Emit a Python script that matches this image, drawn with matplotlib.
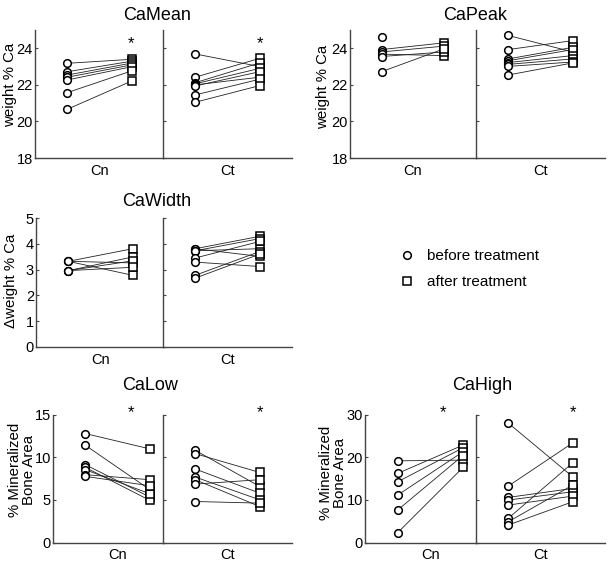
import numpy as np
import matplotlib
matplotlib.use("Agg")
import matplotlib.pyplot as plt
from matplotlib.lines import Line2D

plt.rcParams['font.family'] = ['Liberation Sans', 'DejaVu Sans']

# ---------------- data ----------------
groups = ["Cn", "Ct"]

camean_cn_before = [23.18, 22.72, 22.54, 22.42, 22.27, 21.58, 20.67]
camean_cn_after = [23.40, 23.30, 23.20, 23.10, 23.00, 22.78, 22.23]
camean_ct_before = [23.69, 22.42, 22.12, 22.06, 22.00, 21.94, 21.45, 21.05]
camean_ct_after = [23.00, 23.45, 23.20, 22.90, 22.42, 22.72, 22.31, 21.96]

capeak_cn_before = [24.62, 23.93, 23.80, 23.68, 23.55, 22.72]
capeak_cn_after = [np.nan, 24.30, 24.12, 23.60, 23.80, 23.98]
capeak_ct_before = [24.70, 23.93, 23.42, 23.32, 23.22, 23.12, 23.01, 22.54]
capeak_ct_after = [23.80, 24.42, 24.05, 23.93, 23.60, 23.42, 23.25, 23.20]

cawidth_cn_before = [3.32, 3.32, 3.32, 2.96, 2.96, 2.96]
cawidth_cn_after = [3.81, 2.78, 3.26, 3.49, 3.34, 3.09]
cawidth_ct_before = [3.81, 3.81, 3.73, 3.73, 3.45, 3.29, 2.78, 2.67]
cawidth_ct_after = [4.29, 3.51, 4.20, 3.81, 4.09, 3.12, 3.70, 3.60]

calow_cn_before = [12.77, 11.40, 9.13, 8.81, 8.54, 7.96, 7.76]
calow_cn_after = [10.97, 6.19, 5.33, 4.94, 5.72, 7.37, 6.66]
calow_ct_before = [10.81, 10.42, 8.62, 7.68, 7.37, 6.86, 4.82]
calow_ct_after = [6.58, 8.22, 5.80, 5.02, 4.23, 7.37, 4.63]

cahigh_cn_before = [19.16, 16.21, 14.25, 11.14, 7.64, 2.34]
cahigh_cn_after = [19.32, 22.83, 22.20, 21.26, 20.40, 17.60]
cahigh_ct_before = [28.00, 13.25, 10.60, 9.98, 8.81, 5.70, 4.90, 4.14]
cahigh_ct_after = [15.42, 23.36, 12.70, 11.92, 10.90, 18.70, 13.48, 9.58]

legend_labels = ["before treatment", "after treatment"]

# ---------------- layout ----------------
W, H = 612, 565
fig = plt.figure(figsize=(W / 100, H / 100), dpi=100)

SPINE = "#444444"
LINEC = "#222222"
FS = 10.5
MS_O, MS_S, MEW = 5.5, 5.1, 1.1


def add_ax(x0, x1, ytop, ybot):
    return fig.add_axes([x0 / W, (H - ybot) / H, (x1 - x0) / W, (ybot - ytop) / H])


def style(ax, ylim, yticks, labels):
    ax.set_ylim(*ylim)
    ax.set_yticks(yticks)
    for s in ("top", "right"):
        ax.spines[s].set_visible(False)
    for s in ("left", "bottom"):
        ax.spines[s].set_color(SPINE)
        ax.spines[s].set_linewidth(1.0)
    ax.tick_params(axis="y", direction="in", length=2.5, width=0.8, color=SPINE,
                   pad=1.5, labelsize=FS, labelleft=labels)
    ax.tick_params(axis="x", length=0, pad=4, labelsize=FS)
    ax.set_facecolor("none")


def draw_half(ax, before, after, xlim, label):
    ax.set_xlim(*xlim)
    b = np.asarray(before, dtype=float)
    a = np.asarray(after, dtype=float)
    for yb, ya in zip(b, a):
        ax.plot([1, 2], [yb, ya], color=LINEC, lw=0.6, zorder=2)
    ax.plot(np.ones_like(b), b, ls="none", marker="o", ms=MS_O, mfc="white",
            mec="black", mew=MEW, zorder=3, clip_on=False)
    ax.plot(np.full_like(a, 2), a, ls="none", marker="s", ms=MS_S, mfc="white",
            mec="black", mew=MEW, zorder=3, clip_on=False)
    ax.set_xticks([1.5])
    ax.set_xticklabels([label])


def panel(xl, xm, xr, ytop, ybot, title, title_xy, ylabel, ylabel_xy, ylim, yticks,
          cn_b, cn_a, ct_b, ct_a, left_xlim, stars, star_x_left, star_y):
    axl = add_ax(xl, xm, ytop, ybot)
    axr = add_ax(xm, xr, ytop, ybot)
    style(axl, ylim, yticks, True)
    style(axr, ylim, yticks, False)
    draw_half(axl, cn_b, cn_a, left_xlim, groups[0])
    draw_half(axr, ct_b, ct_a, (0.5, 2.5), groups[1])
    axl.set_ylabel(ylabel, fontsize=FS + 0.3, linespacing=1.0, va="center", ha="center")
    axl.yaxis.set_label_coords((ylabel_xy[0] - xl) / (xm - xl),
                               (ybot - ylabel_xy[1]) / (ybot - ytop))
    fig.text(title_xy[0] / W, 1 - title_xy[1] / H, title,
             ha="center", va="center", fontsize=13)
    if stars:
        sy = (ybot - star_y) / (ybot - ytop)
        axl.text(star_x_left, sy, "*", transform=axl.get_xaxis_transform(),
                 ha="center", va="center", fontsize=12)
        axr.text(2.0, sy, "*", transform=axr.get_xaxis_transform(),
                 ha="center", va="center", fontsize=12)
    return axl, axr


# Row 1
panel(35, 163, 292, 30, 158, "CaMean", (157, 15), "weight % Ca", (10.5, 85),
      (18, 25), [18, 20, 22, 24],
      camean_cn_before, camean_cn_after, camean_ct_before, camean_ct_after,
      (0.5, 2.47), True, 1.97, 44)
panel(350, 476, 605, 30, 158, "CaPeak", (475, 15), "weight % Ca", (323, 87),
      (18, 25), [18, 20, 22, 24],
      capeak_cn_before, capeak_cn_after, capeak_ct_before, capeak_ct_after,
      (0.5, 2.5), False, 2.0, 44)
# Row 2
panel(36, 163, 292, 218, 347, "CaWidth", (157, 201), "\u0394weight % Ca", (11, 281),
      (0, 5), [0, 1, 2, 3, 4, 5],
      cawidth_cn_before, cawidth_cn_after, cawidth_ct_before, cawidth_ct_after,
      (0.5, 2.47), False, 2.0, 0)
# Row 3
panel(53, 163, 292, 414.5, 542.7, "CaLow", (150, 385), "% Mineralized\nBone Area", (22, 470),
      (0, 15), [0, 5, 10, 15],
      calow_cn_before, calow_cn_after, calow_ct_before, calow_ct_after,
      (0.5, 2.2), True, 1.71, 412.5)
panel(365, 476, 605, 414.5, 542.7, "CaHigh", (482, 385), "% Mineralized\nBone Area", (333, 473),
      (0, 30), [0, 10, 20, 30],
      cahigh_cn_before, cahigh_cn_after, cahigh_ct_before, cahigh_ct_after,
      (0.5, 2.2), True, 1.70, 412.5)

# Legend
handles = [Line2D([], [], ls="none", marker="o", ms=MS_O, mfc="white", mec="black", mew=MEW),
           Line2D([], [], ls="none", marker="s", ms=MS_S, mfc="white", mec="black", mew=MEW)]
fig.legend(handles, legend_labels, loc="upper left", bbox_to_anchor=(393 / W, 1 - 243 / H),
           frameon=False, fontsize=11, handlelength=1.0, handletextpad=0.8,
           labelspacing=0.8, borderaxespad=0)

fig.savefig("out.png", dpi=100)
